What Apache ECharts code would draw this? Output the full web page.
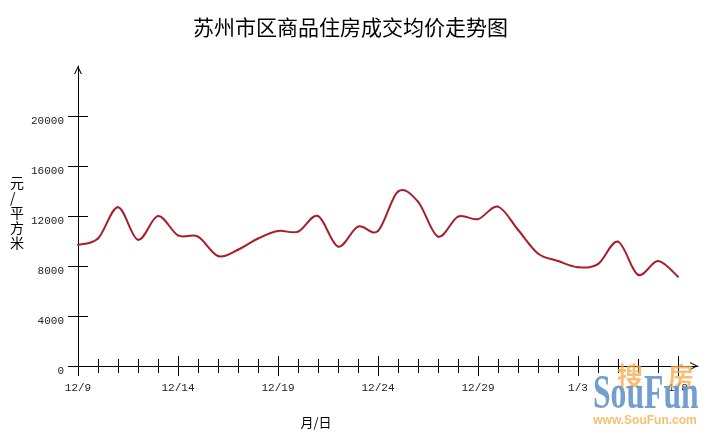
<!DOCTYPE html>
<html>
<head>
<meta charset="utf-8">
<script src="https://cdn.jsdelivr.net/npm/echarts@6/dist/echarts.min.js"></script>
<style>html,body{margin:0;padding:0;background:#fff;}#c{width:713px;height:436px;}</style>
</head>
<body>
<div id="c"></div>
<script>
var titleText = '苏州市区商品住房成交均价走势图';
var yName = '元/平方米';
var xName = '月/日';
var dates = ['12/9','12/10','12/11','12/12','12/13','12/14','12/15','12/16','12/17','12/18','12/19','12/20','12/21','12/22','12/23','12/24','12/25','12/26','12/27','12/28','12/29','12/30','12/31','1/1','1/2','1/3','1/4','1/5','1/6','1/7','1/8'];
var prices = [9700,10200,12700,10100,12000,10450,10350,8800,9300,10200,10800,10750,12000,9550,11150,10800,13950,13150,10350,11950,11750,12750,10900,9000,8400,7900,8150,9950,7300,8400,7150];
var yTicks = [0,4000,8000,12000,16000,20000];
var xLabelIdx = [0,5,10,15,20,25,30];

var dayIdx = dates.map(function(d,i){return i;});
var seriesData = prices.map(function(v,i){return [dayIdx[i], v];});

var chevron = 'path://M0,10 L5,0 L10,10 L8.6,10 L5,2.8 L1.4,10 Z';
var numFont = 'Liberation Mono';
var cjkFont = 'Noto Sans CJK SC';
var lineColor = '#a81e2a';

function xAx(len, inside, showLine, showLabel, vals){
  return {
    type:'value', min:0, max:31, interval:1, gridIndex:0, position:'bottom',
    axisLine:{show:showLine, lineStyle:{color:'#000', width:1}, symbol:['none', chevron], symbolSize:[11,8], symbolOffset:[0,-4]},
    axisTick:{show:true, inside:inside, length:len, customValues:vals, lineStyle:{color:'#000', width:1}},
    axisLabel:{show:showLabel, customValues:xLabelIdx, formatter:function(v){return dates[v];}, margin:17, color:'#222', fontFamily:numFont, fontSize:11},
    splitLine:{show:false}
  };
}
function yAx(inside, showLine, showLabel){
  return {
    type:'value', min:0, max:24000, interval:4000, position:'left',
    axisLine:{show:showLine, lineStyle:{color:'#000', width:1}, symbol:['none', chevron], symbolSize:[11,8], symbolOffset:[0,-4]},
    axisTick:{show:true, inside:inside, length:10, customValues:yTicks, lineStyle:{color:'#000', width:1}},
    axisLabel:{show:showLabel, customValues:yTicks, formatter:function(v){return String(v);}, margin:14, color:'#222', fontFamily:numFont, fontSize:11, verticalAlign:'top'},
    splitLine:{show:false}
  };
}

function renderSegment(params, api){
  var i = params.dataIndex;
  if (i >= seriesData.length - 1) return null;
  function P(k){ k = Math.max(0, Math.min(seriesData.length - 1, k)); return api.coord(seriesData[k]); }
  var p0 = P(i-1), p1 = P(i), p2 = P(i+1), p3 = P(i+2);
  return {
    type:'bezierCurve',
    shape:{
      x1:p1[0], y1:p1[1], x2:p2[0], y2:p2[1],
      cpx1:p1[0] + (p2[0]-p0[0])/6, cpy1:p1[1] + (p2[1]-p0[1])/6,
      cpx2:p2[0] - (p3[0]-p1[0])/6, cpy2:p2[1] - (p3[1]-p1[1])/6
    },
    style:{stroke:lineColor, lineWidth:2, fill:null, lineCap:'round'}
  };
}

var chart = echarts.init(document.getElementById('c'), null, {renderer:'canvas'});
chart.setOption({
  backgroundColor:'#fff',
  animation:false,
  title:{text:titleText, left:188, top:12, textStyle:{fontFamily:cjkFont, fontSize:21, fontWeight:'normal', color:'#000'}},
  grid:{left:78, right:15, top:66, bottom:70, containLabel:false, outerBoundsMode:'none'},
  xAxis:[
    xAx(7, false, true, true, dayIdx),
    xAx(7, true, false, false, dayIdx),
    xAx(10, false, false, false, xLabelIdx),
    xAx(10, true, false, false, xLabelIdx)
  ],
  yAxis:[yAx(false, true, true), yAx(true, false, false)],
  graphic:[
    {type:'text', left:10, top:175, style:{text:'元\n/\n平\n方\n米', fontFamily:cjkFont, fontSize:14, lineHeight:15, fill:'#000'}},
    {type:'text', x:316, y:422, style:{text:xName, fontFamily:cjkFont, fontSize:13, fill:'#000', align:'center', verticalAlign:'middle'}},
    {type:'text', x:630, y:376, z:100, style:{text:'搜', fontFamily:cjkFont, fontSize:26, fontWeight:'bold', fill:'rgba(243,170,70,0.75)', align:'center', verticalAlign:'middle'}},
    {type:'text', x:681, y:376, z:100, style:{text:'房', fontFamily:cjkFont, fontSize:26, fontWeight:'bold', fill:'rgba(243,170,70,0.75)', align:'center', verticalAlign:'middle'}},
    {type:'text', x:593, y:396, scaleX:0.66, z:100, style:{text:'SouFun', fontFamily:'Liberation Serif', fontSize:48, fontWeight:'bold', fill:'rgba(100,148,205,0.9)', align:'left', verticalAlign:'middle'}},
    {type:'text', x:645, y:421, z:100, style:{text:'www.SouFun.com', fontFamily:'Liberation Sans', fontSize:12, fontWeight:'bold', fill:'rgba(243,170,70,0.75)', align:'center', verticalAlign:'middle'}}
  ],
  series:[{
    type:'custom', coordinateSystem:'cartesian2d', xAxisIndex:0, yAxisIndex:0,
    data:seriesData, renderItem:renderSegment, clip:false
  }]
});
</script>
</body>
</html>
